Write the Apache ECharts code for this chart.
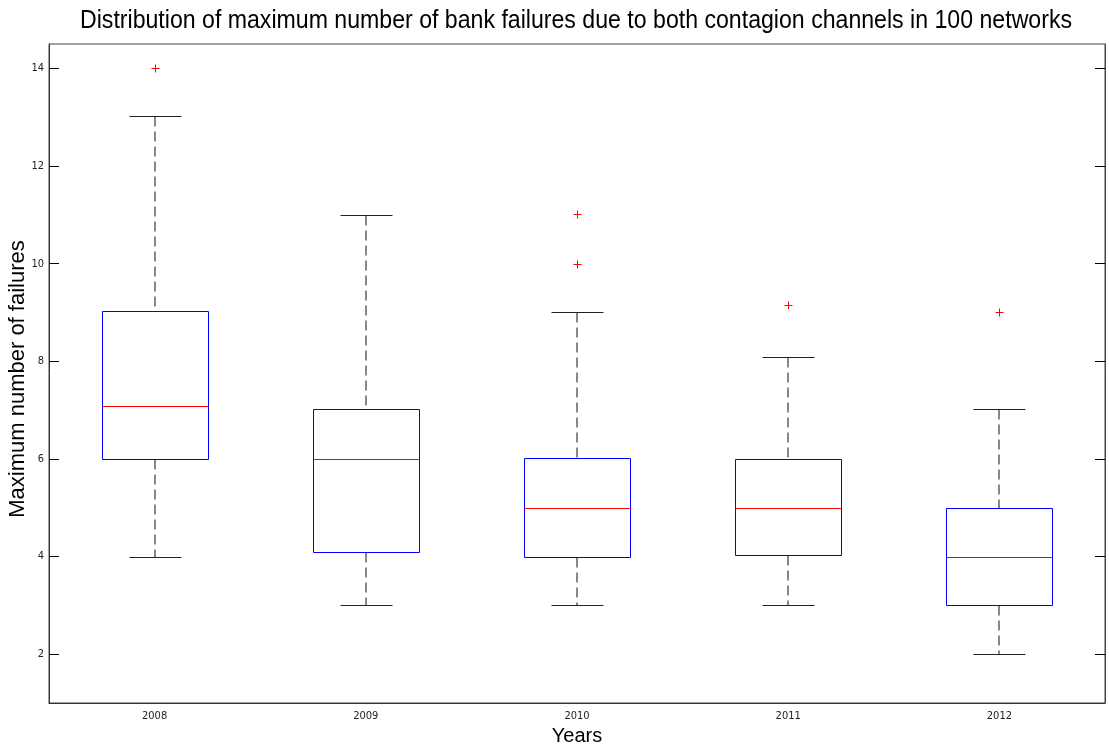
<!DOCTYPE html>
<html>
<head>
<meta charset="utf-8">
<script src="https://cdn.jsdelivr.net/npm/echarts@6/dist/echarts.min.js"></script>
<style>html,body{margin:0;padding:0;background:#fff}#c{width:1109px;height:749px}</style>
</head>
<body>
<div id="c"></div>
<script>
const categories = ['2008', '2009', '2010', '2011', '2012'];
const lowWhisker = [4, 3, 3, 3, 2];
const q1 = [6, 4.09, 4, 4.04, 3];
const median = [7.08, 6, 5, 5, 4];
const q3 = [9.04, 7.02, 6.01, 6, 5];
const highWhisker = [13.02, 11, 9, 8.08, 7.02];
const outliers = [[0, 14], [2, 10], [2, 11.01], [3, 9.15], [4, 9]];
const yTicks = [2, 4, 6, 8, 10, 12, 14];
const titleText = 'Distribution of maximum number of bank failures due to both contagion channels in 100 networks';
const yName = 'Maximum number of failures';
const xName = 'Years';

const boxData = categories.map((c, i) => [i, lowWhisker[i], q1[i], median[i], q3[i], highWhisker[i]]);

const chart = echarts.init(document.getElementById('c'), null, {renderer: 'canvas'});
const cr = v => Math.round(v) + 0.5;

function pts(api) {
  const i = api.value(0);
  return {
    lo: api.coord([i, api.value(1)]),
    b1: api.coord([i, api.value(2)]),
    md: api.coord([i, api.value(3)]),
    b3: api.coord([i, api.value(4)]),
    hi: api.coord([i, api.value(5)]),
    band: api.size([1, 0])[0]
  };
}

function renderWhiskers(params, api) {
  const p = pts(api);
  const x = Math.round(p.lo[0]);
  const cw = p.band * 0.25;
  const a = cr(x - cw / 2), b = cr(x + cw / 2);
  const yh = cr(p.hi[1]), yl = cr(p.lo[1]), yt = cr(p.b3[1]), yb = cr(p.b1[1]);
  return {
    type: 'path',
    shape: {
      pathData: 'M' + a + ' ' + yh + 'L' + b + ' ' + yh + 'M' + a + ' ' + yl + 'L' + b + ' ' + yl
    },
    style: {stroke: '#222222', fill: 'none', lineWidth: 1}
  };
}

function renderDash(params, api) {
  const p = pts(api);
  const x = Math.round(p.lo[0]);
  const yh = cr(p.hi[1]), yl = cr(p.lo[1]), yt = cr(p.b3[1]), yb = cr(p.b1[1]);
  return {
    type: 'path',
    shape: {pathData: 'M' + x + ' ' + yh + 'L' + x + ' ' + yt + 'M' + x + ' ' + yb + 'L' + x + ' ' + yl},
    style: {stroke: '#111111', fill: 'none', lineWidth: 1, lineDash: [10, 5]}
  };
}

function renderRect(params, api) {
  const p = pts(api);
  const x = Math.round(p.lo[0]);
  const bw = p.band * 0.5;
  const xl = cr(x - bw / 2), xr = cr(x + bw / 2);
  const yt = cr(p.b3[1]), yb = cr(p.b1[1]);
  return {
    type: 'rect',
    shape: {x: xl, y: yt, width: xr - xl, height: yb - yt},
    style: {stroke: '#0000ff', fill: 'none', lineWidth: 1}
  };
}

function renderMedian(params, api) {
  const p = pts(api);
  const x = Math.round(p.lo[0]);
  const bw = p.band * 0.5;
  const xl = cr(x - bw / 2), xr = cr(x + bw / 2);
  const ym = cr(p.md[1]);
  return {
    type: 'path',
    shape: {pathData: 'M' + xl + ' ' + ym + 'L' + xr + ' ' + ym},
    style: {stroke: '#ff0000', fill: 'none', lineWidth: 1}
  };
}

function renderOutlier(params, api) {
  const p = api.coord([api.value(0), api.value(1)]);
  const x = cr(p[0]), y = cr(p[1]), s = 4;
  return {
    type: 'path',
    shape: {pathData: 'M' + (x - s) + ' ' + y + 'L' + (x + s) + ' ' + y + 'M' + x + ' ' + (y - s) + 'L' + x + ' ' + (y + s)},
    style: {stroke: '#ff0000', fill: 'none', lineWidth: 1}
  };
}

// fit title width to the reference's condensed look
const titleFont = '25px "Liberation Sans", Arial, sans-serif';
const mctx = document.createElement('canvas').getContext('2d');
mctx.font = titleFont;
const titleW = mctx.measureText(titleText).width;
const titleScale = 992 / titleW;

const tickFont = {fontFamily: '"DejaVu Sans Condensed", "Liberation Sans Narrow", Arial', fontSize: 11, color: '#222'};
const enc5 = {x: 0, y: [1, 2, 3, 4, 5]};

chart.setOption({
  animation: false,
  backgroundColor: '#fff',
  graphic: [{
    type: 'text', x: 576, y: 21, scaleX: titleScale, scaleY: 1,
    style: {text: titleText, font: titleFont, fill: '#000', align: 'center', verticalAlign: 'middle'}
  }, {
    type: 'text', x: 18, y: 379, rotation: Math.PI / 2,
    style: {text: yName, font: '22px "Liberation Sans", Arial, sans-serif', fill: '#000', align: 'center', verticalAlign: 'middle'}
  }],
  grid: {left: 49, right: 4, top: 44, bottom: 46, outerBoundsMode: 'none', containLabel: false, show: true, borderColor: '#444', borderWidth: 1, backgroundColor: '#fff'},
  xAxis: {
    type: 'category', data: categories, boundaryGap: true,
    name: xName, nameLocation: 'middle', nameGap: 22,
    nameTextStyle: {fontFamily: '"Liberation Sans", Arial', fontSize: 20, color: '#000', verticalAlign: 'top'},
    axisLine: {lineStyle: {color: '#333'}},
    axisTick: {show: false},
    axisLabel: Object.assign({margin: 8}, tickFont),
    splitLine: {show: false}
  },
  yAxis: [{
    type: 'value', min: 1, max: 14.5, position: 'left',
    axisLine: {show: true, lineStyle: {color: '#333'}},
    axisTick: {show: true, inside: true, length: 10, customValues: yTicks, lineStyle: {color: '#000'}},
    axisLabel: Object.assign({margin: 5, customValues: yTicks}, tickFont),
    splitLine: {show: false}
  }, {
    type: 'value', min: 1, max: 14.5, position: 'right',
    axisLine: {show: true, lineStyle: {color: '#444'}},
    axisTick: {show: true, inside: true, length: 10, customValues: yTicks, lineStyle: {color: '#000'}},
    axisLabel: {show: false},
    splitLine: {show: false}
  }],
  series: [
    {type: 'custom', renderItem: renderDash, data: boxData, encode: enc5, z: 2, silent: true, color: '#111111'},
    {type: 'custom', renderItem: renderWhiskers, data: boxData, encode: enc5, z: 2, silent: true, color: '#222222'},
    {type: 'custom', renderItem: renderRect, data: boxData, encode: enc5, z: 3, silent: true, color: '#0000ff'},
    {type: 'custom', renderItem: renderMedian, data: boxData, encode: enc5, z: 4, silent: true, color: '#ff0000'},
    {type: 'custom', renderItem: renderOutlier, data: outliers, encode: {x: 0, y: 1}, z: 4, silent: true, color: '#ff0000'}
  ]
});
</script>
</body>
</html>
